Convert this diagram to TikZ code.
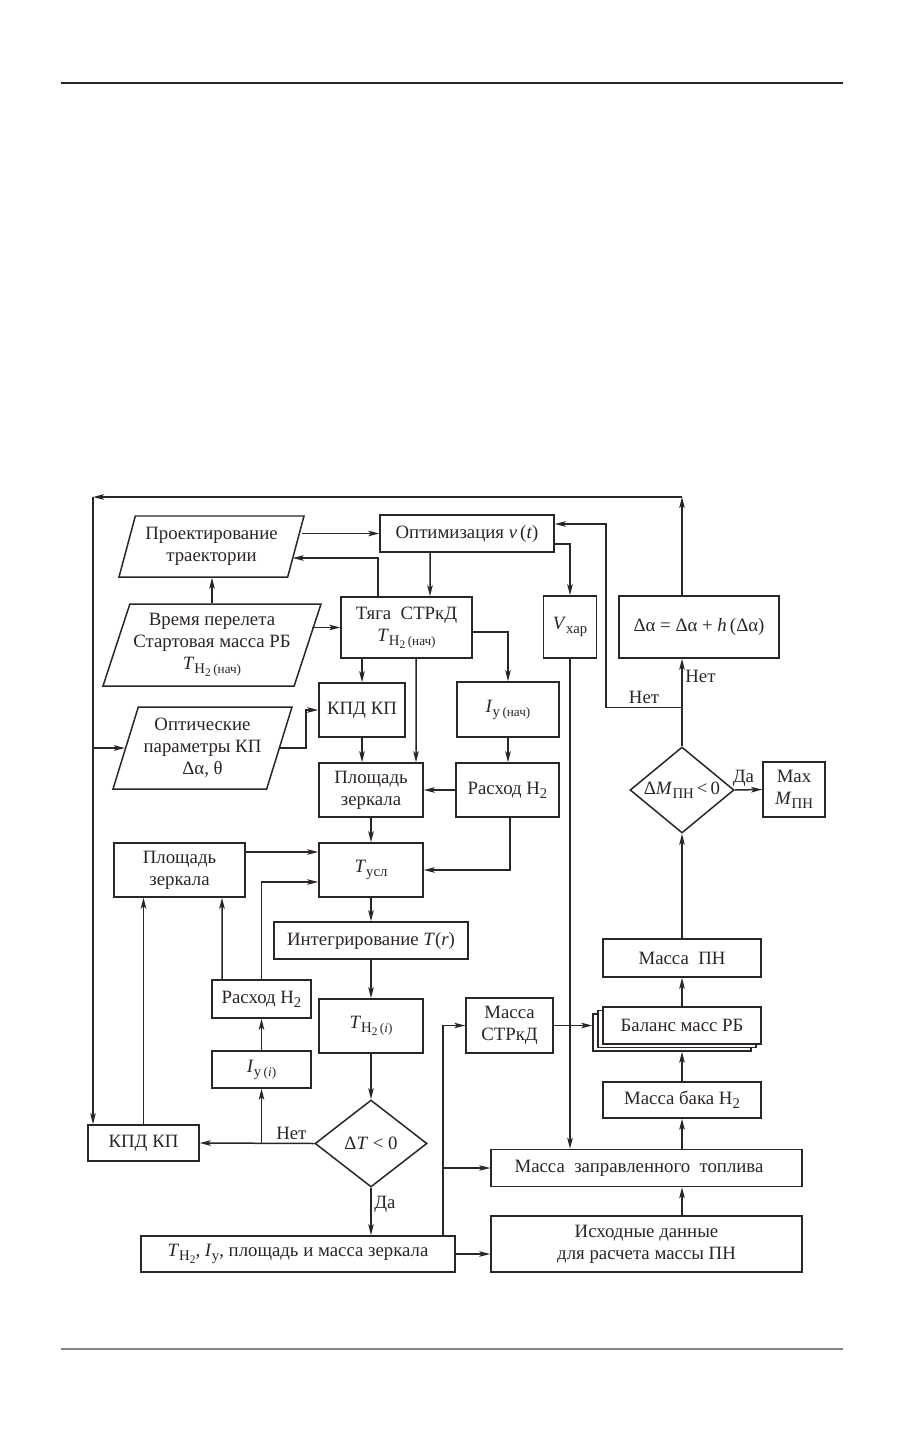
\documentclass[tikz,border=0pt]{standalone}
\usepackage{fontspec}
\setmainfont{Liberation Serif}
\usepackage{tikz}
\usepackage{xcolor}
\usetikzlibrary{arrows.meta,positioning,shapes.geometric,calc}
\definecolor{ink}{HTML}{2B2623}
\definecolor{rulegray}{HTML}{858585}
\newcommand{\bodyfont}{\fontsize{10.7}{12.6}\selectfont}
\newcommand{\dn}[1]{\raisebox{-0.45ex}{\fontsize{8.4}{9}\selectfont #1}}
\newcommand{\dnn}[1]{\raisebox{-0.4ex}{\fontsize{6.5}{7}\selectfont #1}}
\newcommand{\paren}[1]{{\fontsize{7.5}{8}\selectfont #1}}
\newcommand{\Htwo}{H\dn{2}}
\newcommand{\Tnach}{\textit{T}\dn{H\dnn{2}\,\paren{(нач)}}}
\newcommand{\Thi}{\textit{T}\dn{H\dnn{2}\,\paren{(\textit{i})}}}
\newcommand{\Iynach}{\textit{I}\dn{у\,\paren{(нач)}}}
\newcommand{\Iyi}{\textit{I}\dn{у\,\paren{(\textit{i})}}}
\tikzset{
  blok/.style={draw=ink, fill=white, line width=0.85pt, inner sep=0pt,
               align=center, font=\bodyfont, text=ink},
  para/.style={trapezium, trapezium left angle=67, trapezium right angle=113,
               trapezium stretches body=true, draw=ink, fill=white, line width=0.85pt,
               inner sep=0pt, align=center, font=\bodyfont, text=ink},
  romb/.style={diamond, aspect=1.2, draw=ink, fill=white, line width=0.85pt,
               inner sep=0pt, align=center, font=\bodyfont, text=ink},
  flow/.style={-{Stealth[length=2.2mm,width=1.1mm,inset=0.5mm]}, draw=ink, line width=0.85pt}
}

\begin{document}
\begin{tikzpicture}[x=0.2mm,y=-0.2mm,
   lbl/.style={font=\bodyfont, text=ink, inner sep=1.5pt}]

  \path[fill=white] (0,0) rectangle (904,1431);

  % page rules
  \draw[ink,line width=0.8pt] (61,83) -- (843,83);
  \draw[rulegray,line width=1pt] (61,1349) -- (843,1349);

  % Upper block
  \node[para, minimum width=37mm, minimum height=12.2mm] (proj) at (211.5,546.5) {Проектирование\\траектории};
  \node[blok, minimum width=34.8mm, minimum height=7.4mm] (opt) at (467,533.5) {Оптимизация \textit{v}\,(\textit{t})};
  \node[para, minimum width=43.6mm, minimum height=16.4mm] (vrem) at (212,645) {Время перелета\\Стартовая масса РБ\\\Tnach};
  \node[blok, minimum width=26.2mm, minimum height=12.2mm] (tyaga) at (406.5,627.5) {Тяга~~СТРкД\\\Tnach};
  \node[blok, minimum width=10.6mm, minimum height=12.4mm] (vhar) at (570,627) {\textit{V}\dn{хар}};
  \node[blok, minimum width=32mm, minimum height=12.4mm] (dalpha) at (699,627) {Δα = Δα + \textit{h}\,(Δα)};
  \node[para, minimum width=35.8mm, minimum height=16.4mm] (optp) at (202.5,748) {Оптические\\параметры КП\\Δα, θ};
  \node[blok, minimum width=17.2mm, minimum height=10.8mm] (kpdA) at (362,710) {КПД КП};
  \node[blok, minimum width=20.4mm, minimum height=11mm] (iyn) at (508,709.5) {\Iynach};
  \node[blok, minimum width=20.8mm, minimum height=10.8mm] (plA) at (371,790) {Площадь\\зеркала};
  \node[blok, minimum width=20.6mm, minimum height=10.8mm] (rasA) at (507.5,790) {Расход \Htwo};
  \node[romb, minimum width=20.8mm, minimum height=17.2mm] (dm) at (682,790) {Δ\textit{M}\dn{ПН}\,<\,0};
  \node[blok, minimum width=12.4mm, minimum height=11mm] (mmax) at (794,789.5) {Max\\\textit{M}\dn{ПН}};

  % Middle block
  \node[blok, minimum width=26.2mm, minimum height=10.8mm] (plB) at (179.5,870) {Площадь\\зеркала};
  \node[blok, minimum width=20.8mm, minimum height=10.8mm] (tusl) at (371,870) {\textit{T}\dn{усл}};
  \node[blok, minimum width=38.8mm, minimum height=7.4mm] (integ) at (371,940.5) {Интегрирование \textit{T}(\textit{r})};
  \node[blok, minimum width=31.6mm, minimum height=7.6mm] (mpn) at (682,958) {Масса~~ПН};
  \node[blok, minimum width=19.8mm, minimum height=7.6mm] (rasB) at (261.5,999) {Расход \Htwo};
  \node[blok, minimum width=20.8mm, minimum height=10.8mm] (thi) at (371,1026) {\Thi};
  \node[blok, minimum width=17.4mm, minimum height=11mm] (mstr) at (509.5,1025.5) {Масса\\СТРкД};
  \node[blok, minimum width=31.6mm, minimum height=7.4mm] (balC) at (672,1032.5) {};
  \node[blok, minimum width=31.6mm, minimum height=7.4mm] (balB) at (677,1029) {};
  \node[blok, minimum width=31.6mm, minimum height=7.4mm] (bal) at (682,1025.5) {Баланс масс РБ};
  \node[blok, minimum width=19.8mm, minimum height=7.4mm] (iyi) at (261.5,1069.5) {\Iyi};
  \node[blok, minimum width=31.6mm, minimum height=7.2mm] (mbak) at (682,1100) {Масса бака \Htwo};

  % Lower block
  \node[blok, minimum width=22.2mm, minimum height=7.2mm] (kpdB) at (143.5,1143) {КПД КП};
  \node[romb, minimum width=22.4mm, minimum height=17.4mm] (dt) at (371,1143.5) {Δ\textit{T} < 0};
  \node[blok, minimum width=62.2mm, minimum height=7.4mm] (mzt) at (646.5,1168) {Масса~~заправленного~~топлива\hspace*{3mm}};
  \node[blok, minimum width=62.8mm, minimum height=7.2mm] (bot) at (298,1254) {\textit{T}\dn{H\dnn{2}}, \textit{I}\dn{у}, площадь и масса зеркала};
  \node[blok, minimum width=62.2mm, minimum height=11.2mm] (ish) at (646.5,1244) {Исходные данные\\для расчета массы ПН};

  % Outer loop
  \coordinate (tr) at (682,497);
  \coordinate (tl) at (93,497);
  \draw[flow] (dm.north |- dalpha.north) -- (tr);
  \draw[flow] (tr) -- (tl);
  \draw[flow] (tl) -- (tl |- kpdB.north);
  \draw[flow] (tl |- optp.west) -- (optp.west);

  % Upper connectors
  \draw[flow] ($(proj.east |- opt.west)+(5,0)$) -- (opt.west);
  \draw[flow] ($(tyaga.north)+(-28.5,0)$) |- ($(proj.east)+(-4,11.5)$);
  \draw[flow] ($(opt.south)+(-37,0)$) -- ($(tyaga.north)+(23.5,0)$);
  \draw[flow] ($(opt.east)+(0,10.5)$) -| (vhar.north);
  \draw[flow] ($(vrem.east |- tyaga.west)+(4,0)$) -- (tyaga.west);
  \draw[flow] (vrem.north) -- (vrem.north |- proj.south);
  \draw[flow] (tyaga.south -| kpdA.north) -- (kpdA.north);
  \draw[flow] ($(tyaga.south)+(9.5,0)$) -- ($(plA.north)+(45,0)$);
  \draw[flow] ($(tyaga.east)+(0,4.5)$) -| (iyn.north);
  \draw[flow] (optp.east) -- ++(26,0) |- (kpdA.west);
  \draw[flow] (kpdA.south) -- (kpdA.south |- plA.north);
  \draw[flow] (iyn.south) -- (iyn.south |- rasA.north);
  \draw[flow] (rasA.west) -- (plA.east);
  \draw[flow] (plA.south) -- (tusl.north);

  % Middle connectors
  \draw[flow] ($(plB.east)+(0,-18)$) -- ($(tusl.west)+(0,-18)$);
  \draw[flow] ($(rasA.south)+(2.5,0)$) |- (tusl.east);
  \draw[flow] (rasB.north) |- ($(tusl.west)+(0,12)$);
  \draw[flow] ($(rasB.north)+(-39.5,0)$) -- ($(plB.south)+(42.5,0)$);
  \draw[flow] (kpdB.north) -- (kpdB.north |- plB.south);
  \draw[flow] (tusl.south) -- (integ.north);
  \draw[flow] (integ.south) -- (thi.north);
  \draw[flow] (thi.south) -- (dt.north);
  \draw[flow] (iyi.north) -- (rasB.south);

  % Lower connectors
  \draw[flow] (dt.west) -- node[lbl, above, pos=0.2] {Нет} (kpdB.east);
  \draw[flow] (dt.west -| iyi.south) -- (iyi.south);
  \draw[flow] (dt.south) -- node[lbl, right, pos=0.35] {Да} (dt.south |- bot.north);
  \draw[flow] (bot.east) -- (bot.east -| ish.west);
  \coordinate (jn) at ($(bot.north)+(145,0)$);
  \draw[flow] (jn) |- (mstr.west);
  \draw[flow] (jn |- mzt.west) -- (mzt.west);
  \draw[flow] (vhar.south) -- (vhar.south |- mzt.north);
  \draw[flow] (mstr.east) -- (mstr.east -| balC.west);

  % Right column
  \draw[flow] (ish.north -| mbak.south) -- (mzt.south -| mbak.south);
  \draw[flow] (mzt.north -| mbak.south) -- (mbak.south);
  \draw[flow] (mbak.north) -- (mbak.north |- balC.south);
  \draw[flow] (bal.north) -- (mpn.south);
  \draw[flow] (mpn.north) -- (dm.south);
  \draw[flow] (dm.east) -- node[lbl, above, xshift=-1mm] {Да} (mmax.west);
  \draw[flow] (dm.north) -- node[lbl, right, pos=0.8] {Нет} (dm.north |- dalpha.south);
  \coordinate (nj) at ($(dm.north)+(0,-39)$);
  \draw[flow] (nj) -- node[lbl, above] {Нет} ++(-76,0) |- ($(opt.east)+(0,-9.5)$);
\end{tikzpicture}
\end{document}
